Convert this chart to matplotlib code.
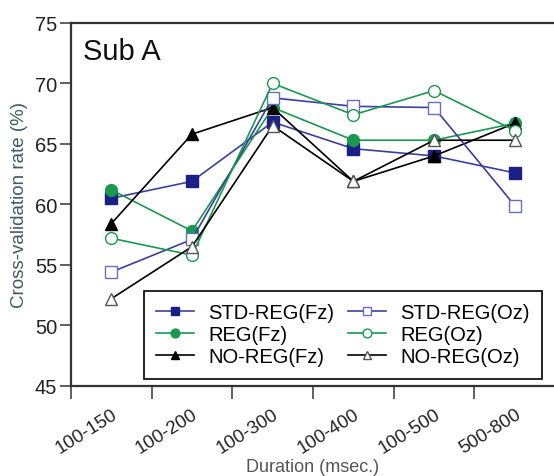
import matplotlib.pyplot as plt
import numpy as np

plt.rcParams['font.family'] = ['Liberation Sans', 'DejaVu Sans']

durations = ["100-150", "100-200", "100-300", "100-400", "100-500", "500-800"]

std_reg_fz = [60.5, 61.9, 66.8, 64.6, 64.0, 62.6]
reg_fz = [61.2, 57.8, 68.0, 65.3, 65.3, 66.7]
noreg_fz = [58.4, 65.8, 68.0, 61.9, 64.0, 66.7]
std_reg_oz = [54.4, 57.1, 68.8, 68.1, 68.0, 59.9]
reg_oz = [57.2, 55.8, 70.0, 67.4, 69.4, 66.1]
noreg_oz = [52.2, 56.5, 66.5, 61.9, 65.3, 65.3]

navy = "#1c1f86"
blue_line = "#3c3f9c"
light_blue = "#6a6cc0"
green = "#1a9850"

fig = plt.figure(figsize=(5.54, 4.77), dpi=100)
ax = fig.add_axes([0.128, 0.189, 0.874, 0.761])

x = np.arange(len(durations)) + 0.5
ms = 8.5
lw = 1.2

ax.plot(x, std_reg_fz, color=blue_line, lw=lw, marker='s', ms=ms,
        mfc=navy, mec=navy, label="STD-REG(Fz)")
ax.plot(x, reg_fz, color=green, lw=lw, marker='o', ms=ms,
        mfc=green, mec=green, label="REG(Fz)")
ax.plot(x, noreg_fz, color='black', lw=lw, marker='^', ms=ms,
        mfc='black', mec='black', label="NO-REG(Fz)")
ax.plot(x, std_reg_oz, color=blue_line, lw=lw, marker='s', ms=ms,
        mfc='white', mec=light_blue, label="STD-REG(Oz)")
ax.plot(x, reg_oz, color=green, lw=lw, marker='o', ms=ms,
        mfc='white', mec=green, label="REG(Oz)")
ax.plot(x, noreg_oz, color='black', lw=lw, marker='^', ms=ms,
        mfc='white', mec='#555555', label="NO-REG(Oz)")

ax.set_xlim(0, 6)
ax.set_ylim(45, 75)
ax.set_yticks(np.arange(45, 76, 5))

# category labels sit between the boundary ticks
ax.set_xticks(x)
ax.set_xticklabels(durations, rotation=32, ha='right', rotation_mode='anchor')
ax.tick_params(axis='x', which='major', length=0, pad=14)
ax.set_xticks(np.arange(0, 7), minor=True)
ax.tick_params(axis='x', which='minor', length=9, width=1.2, color='#444444',
               direction='out')
ax.tick_params(axis='y', length=8, width=1.2, color='#444444', direction='out',
               pad=2)
ax.tick_params(axis='y', labelsize=14.5, labelcolor='#222222')
ax.tick_params(axis='x', labelsize=13.5, labelcolor='#222222')

for side in ['left', 'top', 'bottom']:
    ax.spines[side].set_linewidth(1.6)
    ax.spines[side].set_color('#333333')
ax.spines['right'].set_visible(False)

ax.set_ylabel("Cross-validation rate (%)", fontsize=13.5, color='#3d5a66',
              labelpad=5)
ax.set_xlabel("Duration (msec.)", fontsize=13, color='#555555', labelpad=1)

ax.text(0.025, 0.923, "Sub A", transform=ax.transAxes, fontsize=21,
        va='center', ha='left', color='#111111')

leg = ax.legend(ncol=2, loc='lower right', bbox_to_anchor=(0.973, 0.019),
                borderaxespad=0, fontsize=14.5, frameon=True, fancybox=False,
                edgecolor='black', handlelength=1.9, handletextpad=0.7,
                columnspacing=0.65, labelspacing=0.15, borderpad=0.62,
                markerscale=0.75)
leg.get_frame().set_linewidth(1.2)
leg.get_frame().set_alpha(1)

fig.savefig("out.png", dpi=100)
